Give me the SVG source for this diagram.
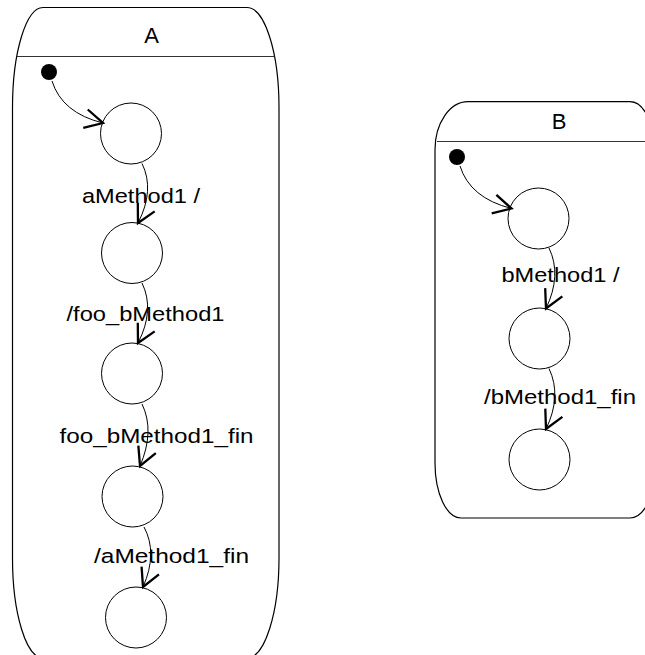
<svg xmlns="http://www.w3.org/2000/svg" width="645" height="655" viewBox="0 0 645 655">
<style>
.box{fill:#fff;stroke:#000;stroke-width:1.2}
.hdr{stroke:#333;stroke-width:1}
.st{fill:#fff;stroke:#000;stroke-width:1}
.init{fill:#000}
.lbl{font-family:"Liberation Sans",Arial,sans-serif;font-size:20.5px;fill:#000}
.ttl{font-family:"Liberation Sans",Arial,sans-serif;font-size:22px;fill:#000;text-anchor:middle}
.tr{fill:none;stroke:#000;stroke-width:1}
</style>
<defs>
<marker id="arr" markerUnits="userSpaceOnUse" markerWidth="40" markerHeight="40" refX="0" refY="0" viewBox="-20 -20 40 40" orient="auto" overflow="visible">
<path d="M-18,-9.5 L0,0 L-18,9.5" fill="none" stroke="#000" stroke-width="2.3"/>
</marker>
</defs>
<rect width="645" height="655" fill="#fff"/>
<g id="A">
<path class="box" d="M43,7.5 H247 A32,100 0 0 1 279,107.5 V558 A32,100 0 0 1 247,658 H43 A30.5,100 0 0 1 12.5,558 V107.5 A30.5,100 0 0 1 43,7.5 Z"/>
<line class="hdr" x1="17" y1="56.5" x2="274.5" y2="56.5"/>
<text class="ttl" x="151.5" y="43">A</text>
</g>
<g id="A_init"><circle class="init" cx="49" cy="72" r="8"/></g>
<g id="A_s1"><circle class="st" cx="131" cy="133.5" r="30.5"/></g>
<g id="A_s2"><circle class="st" cx="132" cy="253" r="30.5"/></g>
<g id="A_s3"><circle class="st" cx="132" cy="373.5" r="30.5"/></g>
<g id="A_s4"><circle class="st" cx="132.5" cy="496.5" r="30.5"/></g>
<g id="A_s5"><circle class="st" cx="136" cy="617.5" r="30.5"/></g>
<g id="B">
<path class="box" d="M468,101.7 H630 A25,50 0 0 1 655,151.7 V468 A25,50 0 0 1 630,518 H461 A26,55 0 0 1 435,463 V150 A33,48 0 0 1 468,101.7 Z"/>
<line class="hdr" x1="437" y1="141.5" x2="645" y2="141.5"/>
<text class="ttl" x="559" y="128.5">B</text>
</g>
<g id="B_init"><circle class="init" cx="457" cy="157" r="8"/></g>
<g id="B_s1"><circle class="st" cx="538.5" cy="218.5" r="30.5"/></g>
<g id="B_s2"><circle class="st" cx="539.5" cy="338.5" r="30.5"/></g>
<g id="B_s3"><circle class="st" cx="539.5" cy="459.5" r="30.5"/></g>
<g id="connectors">
<path class="tr" marker-end="url(#arr)" d="M52,81 Q62,113 103,123"/>
<path class="tr" marker-end="url(#arr)" d="M142,163.5 Q155,190 138,223"/>
<path class="tr" marker-end="url(#arr)" d="M142,283 Q155,310 138,343"/>
<path class="tr" marker-end="url(#arr)" d="M142,404 Q155,431 140,466"/>
<path class="tr" marker-end="url(#arr)" d="M144,527 Q158,553 143,587"/>
<path class="tr" marker-end="url(#arr)" d="M460,166 Q470,198 511.5,208.5"/>
<path class="tr" marker-end="url(#arr)" d="M549,248 Q562,275 546,308.5"/>
<path class="tr" marker-end="url(#arr)" d="M549,368.5 Q562,396 546,429"/>
<text class="lbl" x="82" y="202.5" textLength="118" lengthAdjust="spacingAndGlyphs">aMethod1 /</text>
<text class="lbl" x="66.5" y="320.5" textLength="158" lengthAdjust="spacingAndGlyphs">/foo_bMethod1</text>
<text class="lbl" x="59.5" y="443" textLength="194" lengthAdjust="spacingAndGlyphs">foo_bMethod1_fin</text>
<text class="lbl" x="94" y="563.3" textLength="155" lengthAdjust="spacingAndGlyphs">/aMethod1_fin</text>
<text class="lbl" x="501.5" y="282.3" textLength="118" lengthAdjust="spacingAndGlyphs">bMethod1 /</text>
<text class="lbl" x="484" y="404" textLength="152" lengthAdjust="spacingAndGlyphs">/bMethod1_fin</text>
</g>
</svg>
